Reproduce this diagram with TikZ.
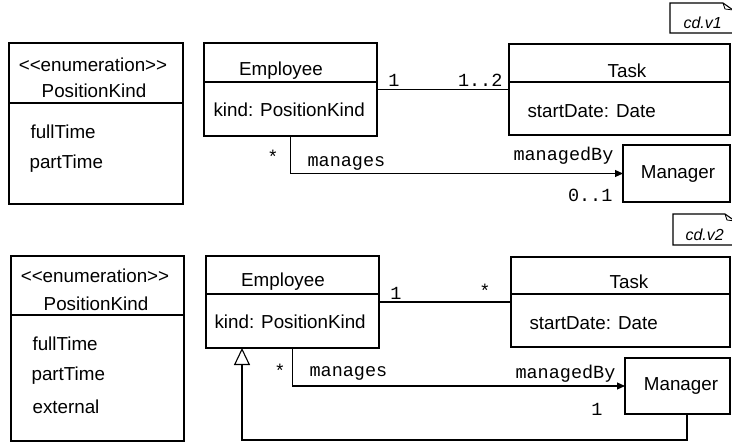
\documentclass[tikz,border=0pt]{standalone}
\usepackage{fontspec}
\setmainfont{Liberation Sans}[Ligatures=TeXOff]
\setmonofont{Liberation Mono}
\usetikzlibrary{arrows.meta, positioning}

\tikzset{
	cls/.style={draw, inner sep=0pt, outer sep=0pt},
	txt/.style={anchor=base, inner sep=0pt, font=\fontsize{18.8}{22}\selectfont},
	lbl/.style={anchor=base, inner sep=0pt, font=\fontsize{18.5}{22}\selectfont\ttfamily},
	vers/.style={anchor=base west, inner sep=0pt, font=\fontsize{16}{19}\selectfont\itshape},
	nav/.style={-{Triangle[length=8pt,width=7pt]}},
	gen/.style={-{Triangle[open,length=17pt,width=16pt]}},
}

\begin{document}
\begin{tikzpicture}[x=1pt, y=-1pt, line width=1.1pt]
	\useasboundingbox (0,0) rectangle (732,445);

	% version 1
	\draw (742,33) -- (670,33) -- (670,3) -- (723,3) -- (733,10);
	\draw [line width=.8pt] (723,3) -- (725,9) -- (733,10);
	\node [vers] (ver1) at (683,28) {cd.v1};

	\node [cls, minimum width=174pt, minimum height=161pt] (enum1) at (96,123.5) {};
	\draw (enum1.west |- 0,103) -- (enum1.east |- 0,103);
	\node [txt] (stereo1) at (93,71) {<<enumeration>>};
	\node [txt] (kindname1) at (94,97) {PositionKind};
	\node [txt, anchor=base west] (full1) at (30,138) {fullTime};
	\node [txt, anchor=base west] (part1) at (29,168) {partTime};

	\node [cls, minimum width=173pt, minimum height=93pt] (emp1) at (290.5,89.5) {};
	\draw (emp1.west |- 0,82) -- (emp1.east |- 0,82);
	\node [txt] (empname1) at (281,75) {Employee};
	\node [txt, anchor=base west] (empattr1) at (213,116) {kind: PositionKind};

	\node [cls, minimum width=221pt, minimum height=91pt] (task1) at (619.5,89.5) {};
	\draw (task1.west |- 0,82) -- (task1.east |- 0,82);
	\node [txt] (taskname1) at (627,77) {Task};
	\node [txt, anchor=base west] (taskattr1) at (527,117) {startDate: Date};

	\node [cls, minimum width=107pt, minimum height=57pt] (mgr1) at (676.5,173.5) {};
	\node [txt] (mgrname1) at (678,178) {Manager};

	\draw (emp1) -- (task1);
	\node [lbl] (m1a) at (394,86) {1};
	\node [lbl, anchor=base east] (m1b) at (503,86) {1..2};

	\draw [nav] (emp1.south) |- (mgr1.west);
	\node [lbl] (m1c) at (273,163) {*};
	\node [lbl, anchor=base west] (role1a) at (307,166) {manages};
	\node [lbl, anchor=base east] (role1b) at (614,160) {managedBy};
	\node [lbl, anchor=base east] (m1d) at (613,201) {0..1};

	% version 2
	\draw (742,245) -- (673,245) -- (673,214) -- (725,214) -- (735,221);
	\draw [line width=.8pt] (725,214) -- (727,220) -- (735,221);
	\node [vers] (ver2) at (685,240) {cd.v2};

	\node [cls, minimum width=173pt, minimum height=185pt] (enum2) at (97.5,348.5) {};
	\draw (enum2.west |- 0,315) -- (enum2.east |- 0,315);
	\node [txt] (stereo2) at (95,282) {<<enumeration>>};
	\node [txt] (kindname2) at (96,310) {PositionKind};
	\node [txt, anchor=base west] (full2) at (32,350) {fullTime};
	\node [txt, anchor=base west] (part2) at (31,380) {partTime};
	\node [txt, anchor=base west] (ext2) at (32,413) {external};

	\node [cls, minimum width=173pt, minimum height=92pt] (emp2) at (292.5,302) {};
	\draw (emp2.west |- 0,294) -- (emp2.east |- 0,294);
	\node [txt] (empname2) at (283,286) {Employee};
	\node [txt, anchor=base west] (empattr2) at (214,328) {kind: PositionKind};

	\node [cls, minimum width=219pt, minimum height=90pt] (task2) at (620.5,302) {};
	\draw (task2.west |- 0,294) -- (task2.east |- 0,294);
	\node [txt] (taskname2) at (629,288) {Task};
	\node [txt, anchor=base west] (taskattr2) at (529,329) {startDate: Date};

	\node [cls, minimum width=105pt, minimum height=56pt] (mgr2) at (677.5,386) {};
	\node [txt] (mgrname2) at (681,390) {Manager};

	\draw (emp2) -- (task2);
	\node [lbl] (m2a) at (396,299) {1};
	\node [lbl] (m2b) at (485,297) {*};

	\draw [nav] (emp2.south) |- (mgr2.west);
	\node [lbl] (m2c) at (280,377) {*};
	\node [lbl, anchor=base west] (role2a) at (309,376) {manages};
	\node [lbl, anchor=base east] (role2b) at (616,378) {managedBy};
	\node [lbl] (m2d) at (597,415) {1};

	\coordinate (bend2) at (687,440);
	\draw [gen] ([xshift=9.5pt]mgr2.south) -- (bend2) -| ([xshift=36pt]emp2.south west);
\end{tikzpicture}
\end{document}
